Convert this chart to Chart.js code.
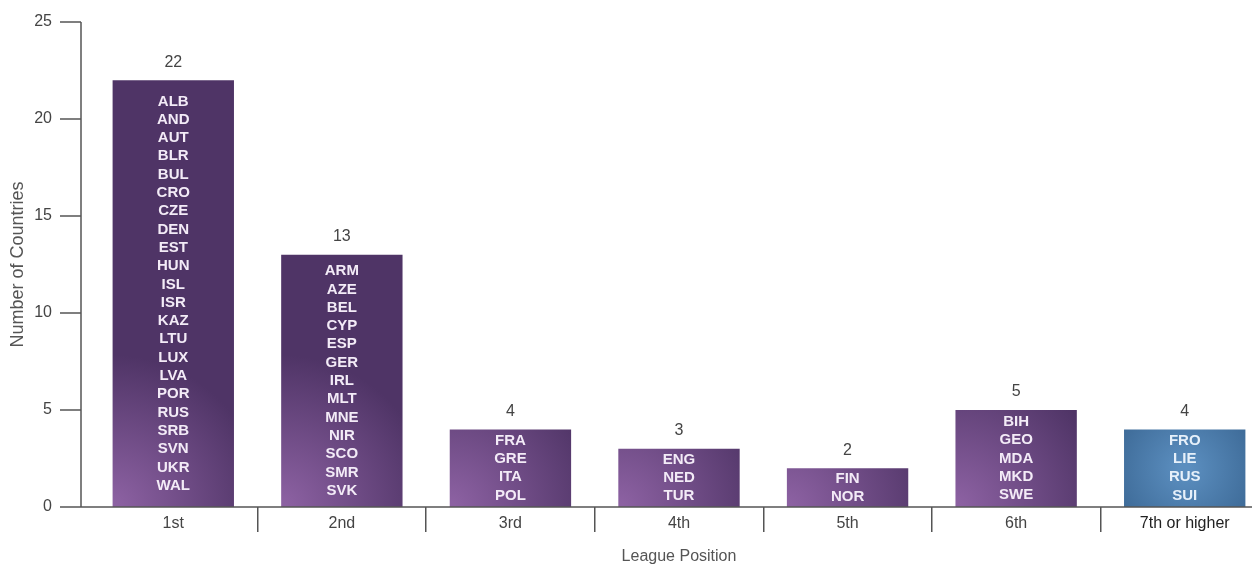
<!DOCTYPE html>
<html>
<head>
<meta charset="utf-8">
<script src="https://cdn.jsdelivr.net/npm/chart.js@4.4.1/dist/chart.umd.min.js"></script>
<style>
  html, body { margin: 0; padding: 0; background: #fff; overflow: hidden; }
  #wrap { width: 1252px; height: 566px; overflow: hidden; }
</style>
</head>
<body>
<div id="wrap"><canvas id="myChart" width="1276" height="566"></canvas></div>
<script>
// league position reached in the season -> how many countries
var positions = ["1st", "2nd", "3rd", "4th", "5th", "6th", "7th or higher"];
var countryCounts = [22, 13, 4, 3, 2, 5, 4];
var countryCodes = [
  ["ALB", "AND", "AUT", "BLR", "BUL", "CRO", "CZE", "DEN", "EST", "HUN", "ISL",
   "ISR", "KAZ", "LTU", "LUX", "LVA", "POR", "RUS", "SRB", "SVN", "UKR", "WAL"],
  ["ARM", "AZE", "BEL", "CYP", "ESP", "GER", "IRL", "MLT", "MNE", "NIR", "SCO", "SMR", "SVK"],
  ["FRA", "GRE", "ITA", "POL"],
  ["ENG", "NED", "TUR"],
  ["FIN", "NOR"],
  ["BIH", "GEO", "MDA", "MKD", "SWE"],
  ["FRO", "LIE", "RUS", "SUI"]
];
var yTicks = [0, 5, 10, 15, 20, 25];

var BAR_PCT = 0.72;
var FONT = "'Liberation Sans', Arial, sans-serif";

// purple for the top six, blue for the last group
function barFill(context) {
  var chart = context.chart;
  if (!chart.chartArea) return '#5b3d72';
  var i = context.dataIndex;
  var xs = chart.scales.x, ys = chart.scales.y;
  var cx = xs.getPixelForValue(i);
  var w = xs.width / positions.length * BAR_PCT;
  var top = ys.getPixelForValue(countryCounts[i]);
  var base = ys.getPixelForValue(0);
  var c = chart.ctx, g;
  if (i === positions.length - 1) {
    g = c.createRadialGradient(cx, (top + base) / 2, 5, cx, (top + base) / 2, w * 0.6);
    g.addColorStop(0, '#5b8ebf');
    g.addColorStop(1, '#3e6b98');
  } else {
    g = c.createRadialGradient(cx - w / 2, base, 5, cx - w / 2, base, w * 1.25);
    g.addColorStop(0, '#8c61a2');
    g.addColorStop(1, '#4f3466');
  }
  return g;
}

var barLabels = {
  id: 'barLabels',
  afterDatasetsDraw: function(chart) {
    var c = chart.ctx;
    var meta = chart.getDatasetMeta(0);
    c.save();
    c.textAlign = 'center';
    c.textBaseline = 'middle';
    meta.data.forEach(function(bar, i) {
      c.fillStyle = '#444';
      c.font = '16px ' + FONT;
      c.fillText(String(countryCounts[i]), bar.x, bar.y - 18);

      var codes = countryCodes[i];
      var lh = 18.3;
      var mid = (bar.y + bar.base) / 2;
      var y0 = mid - (codes.length - 1) * lh / 2;
      c.fillStyle = i === positions.length - 1 ? '#e6f0fa' : '#f3ebf7';
      c.font = 'bold 15px ' + FONT;
      codes.forEach(function(code, k) {
        c.fillText(code, bar.x, y0 + k * lh);
      });
    });
    c.restore();
  }
};

// axis lines sit a little left of the plot area
var axisLines = {
  id: 'axisLines',
  afterDraw: function(chart) {
    var c = chart.ctx, ys = chart.scales.y, area = chart.chartArea;
    var ax = area.left - 8;
    var y0 = ys.getPixelForValue(0);
    c.save();
    c.strokeStyle = '#555';
    c.lineWidth = 1.5;
    c.beginPath();
    c.moveTo(ax, ys.getPixelForValue(25));
    c.lineTo(ax, y0);
    yTicks.forEach(function(v) {
      var py = ys.getPixelForValue(v);
      c.moveTo(ax - 21, py);
      c.lineTo(ax, py);
    });
    c.moveTo(ax, y0);
    c.lineTo(chart.width, y0);
    c.stroke();
    c.restore();
  }
};

var ctx = document.getElementById("myChart");
var myChart = new Chart(ctx, {
  type: 'bar',
  data: {
    labels: positions,
    datasets: [{
      label: 'Number of Countries',
      data: countryCounts,
      backgroundColor: barFill,
      borderWidth: 0,
      barPercentage: BAR_PCT,
      categoryPercentage: 1
    }]
  },
  options: {
    responsive: false,
    animation: false,
    devicePixelRatio: 1,
    layout: { padding: { top: 22, right: 7, left: 0, bottom: 0 } },
    plugins: {
      legend: { display: false },
      tooltip: { enabled: false }
    },
    scales: {
      x: {
        offset: true,
        afterFit: function(scale) { scale.height = 59; },
        border: { display: false },
        grid: {
          offset: true,
          drawOnChartArea: false,
          tickLength: 25,
          lineWidth: 1.5,
          color: function(c) { return c.index === 0 ? 'rgba(0,0,0,0)' : '#555'; }
        },
        ticks: {
          padding: -18,
          color: function(c) { return c.index === positions.length - 1 ? '#222' : '#444'; },
          font: { family: FONT, size: 16 }
        },
        title: {
          display: true,
          text: 'League Position',
          color: '#555',
          padding: { top: 0, bottom: 0 },
          font: { family: FONT, size: 16 }
        }
      },
      y: {
        min: 0,
        max: 25,
        afterFit: function(scale) { scale.width = 89; },
        afterBuildTicks: function(scale) {
          scale.ticks = yTicks.map(function(v) { return { value: v }; });
        },
        border: { display: false },
        // tick marks are drawn by axisLines; tickLength only spaces the labels
        grid: { display: false, drawTicks: true, tickLength: 37 },
        ticks: {
          padding: 0,
          color: '#444',
          font: { family: FONT, size: 16 }
        },
        title: {
          display: true,
          text: 'Number of Countries',
          color: '#555',
          padding: { top: 7, bottom: 0 },
          font: { family: FONT, size: 18 }
        }
      }
    }
  },
  plugins: [barLabels, axisLines]
});
</script>
</body>
</html>
